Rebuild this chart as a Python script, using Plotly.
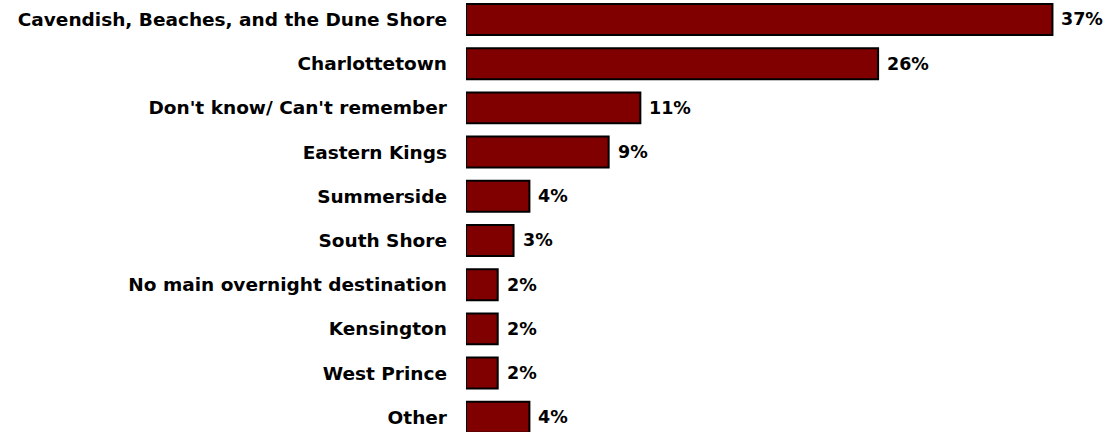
import plotly.graph_objects as go

categories = [
    "Cavendish, Beaches, and the Dune Shore",
    "Charlottetown",
    "Don't know/ Can't remember",
    "Eastern Kings",
    "Summerside",
    "South Shore",
    "No main overnight destination",
    "Kensington",
    "West Prince",
    "Other",
]
percentages = [37, 26, 11, 9, 4, 3, 2, 2, 2, 4]
value_labels = [f"{v}%" for v in percentages]

FONT = "DejaVu Sans"
BAR_COLOR = "#800000"

fig = go.Figure(
    go.Bar(
        x=percentages,
        y=categories,
        orientation="h",
        marker=dict(color=BAR_COLOR, line=dict(color="#000000", width=2)),
        width=0.7,
        hoverinfo="skip",
    )
)

for cat, v, lab in zip(categories, percentages, value_labels):
    fig.add_annotation(
        x=v, y=cat, text=f"<b>{lab}</b>", showarrow=False,
        xanchor="left", yanchor="middle", xshift=7,
        font=dict(family=FONT, size=17.5, color="#000000"),
    )

fig.update_layout(
    width=1112,
    height=432,
    margin=dict(l=466, r=0, t=0, b=0),
    paper_bgcolor="white",
    plot_bgcolor="white",
    showlegend=False,
    font=dict(family=FONT, size=18.5, color="#000000"),
)
fig.update_xaxes(range=[0, 646 / 15.85], visible=False, fixedrange=True)
fig.update_yaxes(
    type="category",
    range=[9.333, -0.441],
    autorange=False,
    showline=False,
    showgrid=False,
    zeroline=False,
    ticks="",
    ticklabelstandoff=18,
    tickfont=dict(family=FONT, size=18.5, color="#000000", weight="bold"),
    fixedrange=True,
)

fig.write_html("out.html")
